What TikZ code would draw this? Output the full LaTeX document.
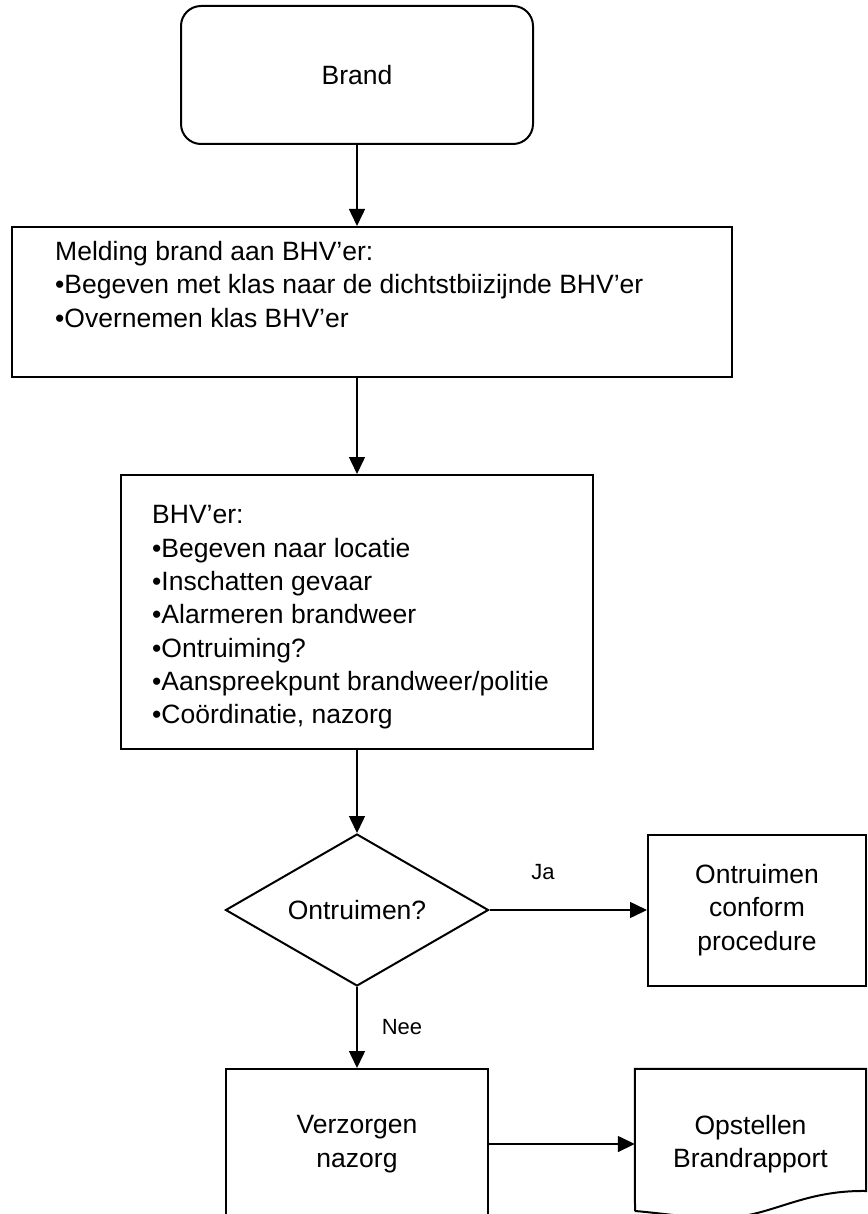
\documentclass[tikz,border=0pt]{standalone}
\usepackage{fontspec}
\setmainfont{Liberation Sans}
\usetikzlibrary{shapes.geometric,arrows.meta}
\newcommand{\boxfont}{\fontsize{26.5pt}{33.3pt}\selectfont}
\newcommand{\answerfont}{\fontsize{22pt}{26pt}\selectfont}

\begin{document}
\begin{tikzpicture}[x=1pt,y=-1pt,
	every node/.style={font=\boxfont},
	startbox/.style={draw,rounded corners=20pt,line width=2pt,minimum width=352pt,minimum height=138pt},
	stepbox/.style={draw,line width=2pt,align=center},
	listtext/.style={anchor=north west,inner sep=0pt,align=left},
	choice/.style={draw,diamond,aspect=1.73,line width=2pt,inner sep=0pt,minimum width=263pt,minimum height=152pt},
	arrow/.style={-{Triangle[length=17pt,width=16pt]},line width=1.5pt},
	answer/.style={font=\answerfont,inner sep=0pt}]
\clip (0,0) rectangle (867,1214);
\node[startbox] (brand) at (357,75) {Brand};
\node[stepbox,minimum width=720pt,minimum height=150pt] (melding) at (372,302) {};
\node[listtext] (meldingtext) at (55,241) {Melding brand aan BHV’er:\\
	•Begeven met klas naar de dichtstbiizijnde BHV’er\\
	•Overnemen klas BHV’er};
\node[stepbox,minimum width=472pt,minimum height=274pt] (bhv) at (357,612) {};
\node[listtext] (bhvtext) at (152,505.5) {BHV’er:\\
	•Begeven naar locatie\\
	•Inschatten gevaar\\
	•Alarmeren brandweer\\
	•Ontruiming?\\
	•Aanspreekpunt brandweer/politie\\
	•Coördinatie, nazorg};
\node[choice] (keuze) at (357,910) {Ontruimen?};
\node[stepbox,minimum width=218pt,minimum height=151pt] (procedure) at (757,910) {Ontruimen\\conform\\procedure};
\node[stepbox,minimum width=262pt,minimum height=150pt] (nazorg) at (357,1144) {Verzorgen\\nazorg};
\node[align=center,minimum width=231pt,minimum height=150pt] (rapport) at (750.5,1144) {Opstellen\\Brandrapport};
% document shape round the report
\draw[line width=2pt] (635,1211) -- (rapport.north west) -- (rapport.north east) -- (866,1191)
	.. controls (800,1190) and (770,1218) .. (720,1218)
	.. controls (690,1218) and (660,1213) .. (635,1211);

\draw[arrow] (brand.south) -- (brand.south |- melding.north);
\draw[arrow] (bhv.north |- melding.south) -- (bhv.north);
\draw[arrow] (bhv.south) -- (keuze.north);
\draw[arrow] (keuze.east) -- node[answer,pos=0.34,above=30pt] {Ja} (procedure.west);
\draw[arrow] (keuze.south) -- node[answer,midway,right=24pt] {Nee} (nazorg.north);
\draw[arrow] (nazorg.east) -- (rapport.west);
\end{tikzpicture}
\end{document}
